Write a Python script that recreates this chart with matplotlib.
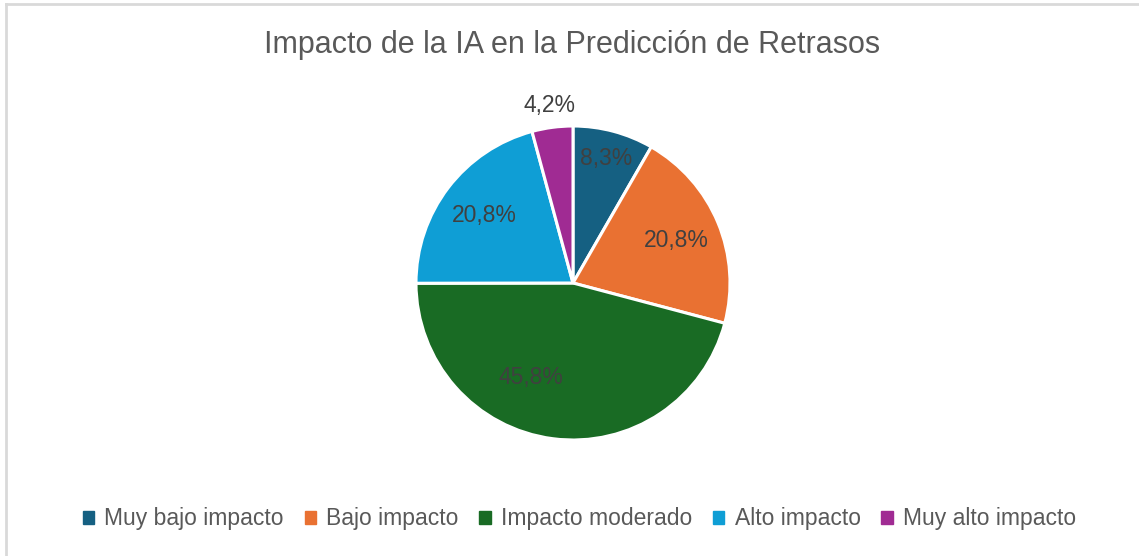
import matplotlib
matplotlib.use("Agg")
import matplotlib.pyplot as plt
import numpy as np
from matplotlib.lines import Line2D

categories = ["Muy bajo impacto", "Bajo impacto", "Impacto moderado", "Alto impacto", "Muy alto impacto"]
values = [8.3, 20.8, 45.8, 20.8, 4.2]
labels = ["8,3%", "20,8%", "45,8%", "20,8%", "4,2%"]
colors = ["#156082", "#E97132", "#196B24", "#0F9ED5", "#A02B93"]
title = "Impacto de la IA en la Predicción de Retrasos"

W, H = 1139, 556
fig = plt.figure(figsize=(W / 100, H / 100), dpi=100)
fig.patch.set_facecolor("white")

# border (top and left only)
fig.add_artist(Line2D([6 / W, 1], [1 - 4 / H, 1 - 4 / H], transform=fig.transFigure,
                      color="#d9d9d9", linewidth=2))
fig.add_artist(Line2D([6 / W, 6 / W], [0, 1 - 4 / H], transform=fig.transFigure,
                      color="#d9d9d9", linewidth=2))

cx, cy, r = 573, 283, 157
ax = fig.add_axes([(cx - r) / W, (H - cy - r) / H, 2 * r / W, 2 * r / H])
wedges, _ = ax.pie(values, colors=colors, startangle=90, counterclock=False,
                   wedgeprops=dict(edgecolor="white", linewidth=2.2), radius=1)
ax.set_xlim(-1, 1)
ax.set_ylim(-1, 1)
ax.set_aspect("equal")
ax.axis("off")

rads = [0.82, 0.71, 0.66, 0.71, 1.14]
for i, w in enumerate(wedges):
    mid = np.deg2rad((w.theta1 + w.theta2) / 2)
    rr = rads[i]
    x, y = rr * np.cos(mid), rr * np.sin(mid)
    if i == 2:
        x, y = -0.27, -0.60
    ax.text(x, y, labels[i], ha="center", va="center", fontsize=16.5,
            color="#404040", family="Liberation Sans", clip_on=False)

fig.text(0.5 + 3 / W, 1 - 45 / H, title, ha="center", va="center", fontsize=22,
         color="#595959", family="Liberation Sans")

handles = [plt.Rectangle((0, 0), 1, 1, color=c) for c in colors]
fig.legend(handles, categories, loc="center", bbox_to_anchor=(0.5 + 10 / W, 1 - 519 / H),
           ncol=5, frameon=False, handlelength=0.5, handleheight=0.5,
           handletextpad=0.45, columnspacing=0.9,
           prop=dict(family="Liberation Sans", size=16.5), labelcolor="#595959")

fig.savefig("out.png", dpi=100, facecolor="white")
